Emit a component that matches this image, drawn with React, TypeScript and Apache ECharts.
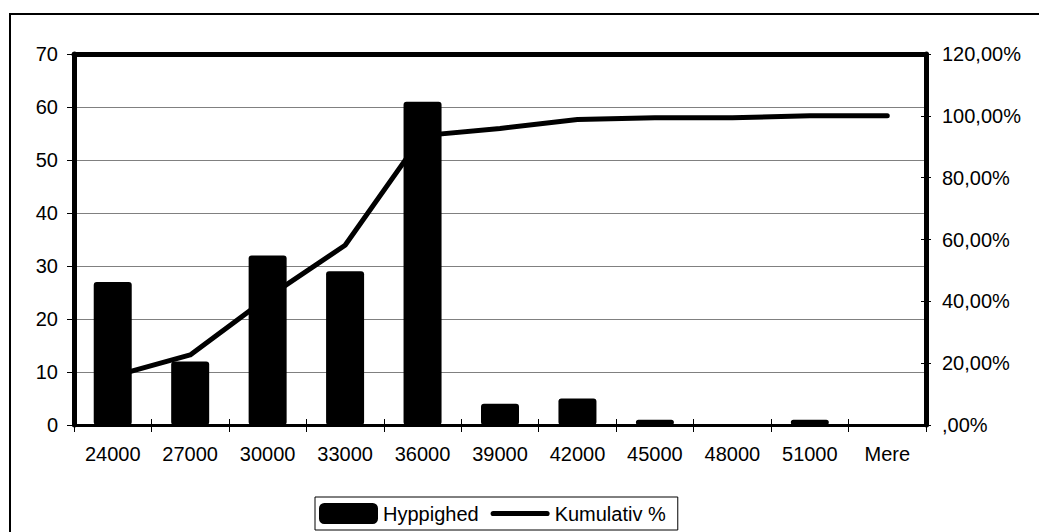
import React, { useEffect, useRef } from "react";
import * as echarts from "echarts";

const categories = ["24000", "27000", "30000", "33000", "36000", "39000", "42000", "45000", "48000", "51000", "Mere"];
const frequency = [27, 12, 32, 29, 61, 4, 5, 1, 0, 1, 0];
const cumulativePct = [15.7, 22.67, 41.28, 58.14, 93.6, 95.93, 98.84, 99.42, 99.42, 100, 100];
const leftTicks = { min: 0, max: 70, interval: 10 };
const rightTicks = { min: 0, max: 120, interval: 20 };
const seriesNames = ["Hyppighed", "Kumulativ %"];

const FONT = "'Liberation Sans', Arial, sans-serif";

function pctLabel(v: number): string {
  if (v === 0) return ",00%";
  return v.toFixed(2).replace(".", ",") + "%";
}

export default function App() {
  const ref = useRef<HTMLDivElement>(null);
  useEffect(() => {
    if (!ref.current) return;
    const chart = echarts.init(ref.current, undefined, { renderer: "svg" });
    const grid = { left: 74, top: 54, width: 852, height: 371, containLabel: false };
    const txt = { color: "#000", fontSize: 20, fontFamily: FONT };
    chart.setOption({
      animation: false,
      backgroundColor: "#fff",
      textStyle: { fontFamily: FONT },
      grid,
      graphic: [
        {
          type: "rect",
          shape: { x: 10, y: 14, width: 1100, height: 600 },
          style: { fill: "none", stroke: "#000", lineWidth: 2 },
          silent: true,
          z: 0,
        },
      ],
      legend: {
        left: 315,
        top: 497,
        orient: "horizontal",
        selectedMode: false,
        borderColor: "#000",
        borderWidth: 1,
        padding: [6, 12, 6, 4],
        itemWidth: 59,
        itemHeight: 21,
        itemGap: 12,
        textStyle: { ...txt },
        data: [
          { name: seriesNames[0], icon: "roundRect" },
          {
            name: seriesNames[1],
            icon: "path://M2.5,0 L54.5,0 A2.5,2.5 0 0 1 54.5,5 L2.5,5 A2.5,2.5 0 0 1 2.5,0 Z",
            itemStyle: { color: "#000" },
          },
        ],
      },
      xAxis: [
        {
          type: "category",
          position: "bottom",
          data: categories,
          boundaryGap: true,
          axisLine: { show: true, onZero: false, lineStyle: { color: "#000", width: 3 } },
          axisTick: { show: true, inside: false, length: 7, lineStyle: { color: "#000", width: 1 } },
          axisLabel: { ...txt, margin: 19, interval: 0 },
          splitLine: { show: false },
        },
        {
          type: "category",
          position: "top",
          data: categories,
          axisLine: { show: true, onZero: false, lineStyle: { color: "#000", width: 5 } },
          axisTick: { show: false },
          axisLabel: { show: false },
          splitLine: { show: false },
        },
        {
          type: "category",
          position: "bottom",
          data: categories,
          axisLine: { show: false, onZero: false },
          axisTick: { show: true, inside: true, length: 6, lineStyle: { color: "#000", width: 1 } },
          axisLabel: { show: false },
          splitLine: { show: false },
        },
      ],
      yAxis: [
        {
          type: "value",
          position: "left",
          ...leftTicks,
          axisLine: { show: true, onZero: false, lineStyle: { color: "#000", width: 5 } },
          axisTick: { show: true, inside: false, length: 7, lineStyle: { color: "#000", width: 1 } },
          axisLabel: { ...txt, margin: 16 },
          splitLine: { show: true, lineStyle: { color: "#808080", width: 1 } },
        },
        {
          type: "value",
          position: "right",
          ...rightTicks,
          axisLine: { show: true, onZero: false, lineStyle: { color: "#000", width: 5 } },
          axisTick: { show: true, inside: false, length: 5, lineStyle: { color: "#000", width: 1 } },
          axisLabel: { ...txt, margin: 16, formatter: (v: number) => pctLabel(v) },
          splitLine: { show: false },
        },
        {
          type: "value",
          position: "right",
          ...rightTicks,
          axisLine: { show: false, onZero: false },
          axisTick: { show: true, inside: true, length: 5, lineStyle: { color: "#000", width: 1 } },
          axisLabel: { show: false },
          splitLine: { show: false },
        },
      ],
      series: [
        {
          name: seriesNames[0],
          type: "bar",
          xAxisIndex: 0,
          yAxisIndex: 0,
          data: frequency,
          barWidth: 38,
          itemStyle: { color: "#000", borderRadius: 3 },
          z: 2,
        },
        {
          name: seriesNames[1],
          type: "line",
          xAxisIndex: 0,
          yAxisIndex: 1,
          data: cumulativePct,
          symbol: "none",
          showSymbol: false,
          lineStyle: { color: "#000", width: 5, cap: "round", join: "round" },
          itemStyle: { color: "#000" },
          z: 3,
        },
      ],
    });
    return () => chart.dispose();
  }, []);
  return (
    <div
      ref={ref}
      style={{ position: "fixed", left: 0, top: 0, width: 1039, height: 532, background: "#fff" }}
    />
  );
}
